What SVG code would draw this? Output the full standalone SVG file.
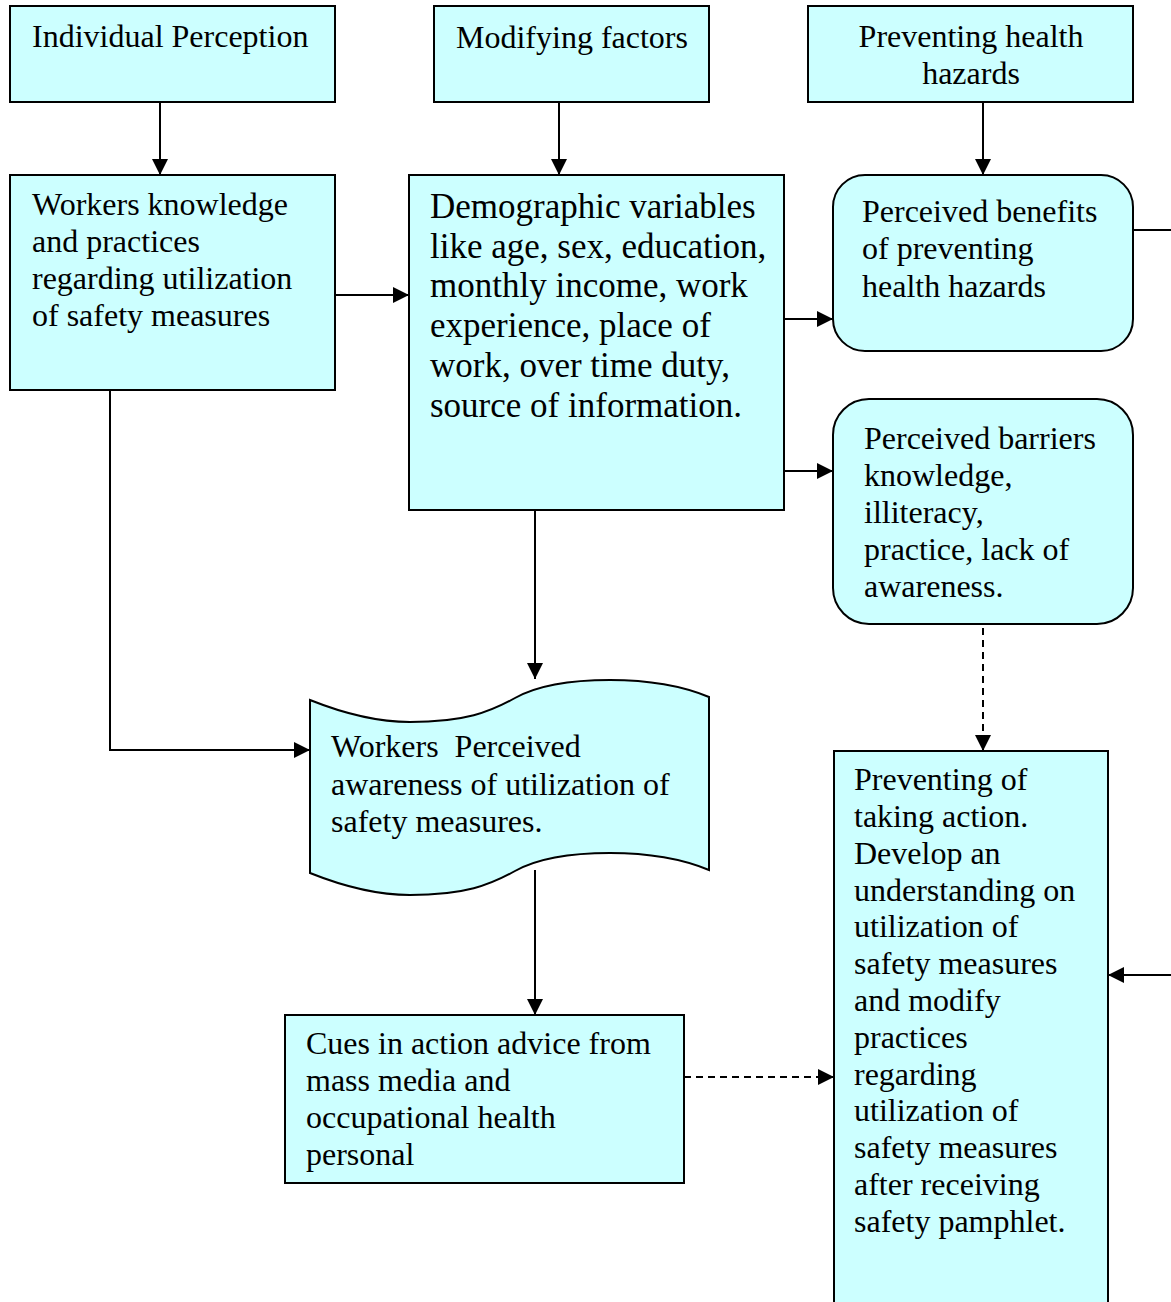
<svg xmlns="http://www.w3.org/2000/svg" width="1171" height="1302" viewBox="0 0 1171 1302">
<style>
.box{fill:#CCFFFF;stroke:#000;stroke-width:2}
.t{font-family:"Liberation Serif","Times New Roman",serif;font-size:32px;fill:#000}
.tl{font-family:"Liberation Serif","Times New Roman",serif;font-size:35px;fill:#000}
.c{fill:none;stroke:#000;stroke-width:2}
.d{fill:none;stroke:#000;stroke-width:2;stroke-dasharray:7,5}
</style>
<defs>
<marker id="ah" markerUnits="userSpaceOnUse" markerWidth="16" markerHeight="16" viewBox="0 0 16 16" refX="16" refY="8" orient="auto">
<path d="M0,0 L16,8 L0,16 Z" fill="#000"/>
</marker>
</defs>
<rect width="1171" height="1302" fill="#fff"/>
<g id="connectors">
<line class="c" x1="160" y1="102" x2="160" y2="175" marker-end="url(#ah)"/>
<line class="c" x1="559" y1="102" x2="559" y2="175" marker-end="url(#ah)"/>
<line class="c" x1="983" y1="102" x2="983" y2="175" marker-end="url(#ah)"/>
<line class="c" x1="335" y1="295" x2="409" y2="295" marker-end="url(#ah)"/>
<line class="c" x1="784" y1="319" x2="833" y2="319" marker-end="url(#ah)"/>
<line class="c" x1="784" y1="471" x2="833" y2="471" marker-end="url(#ah)"/>
<polyline class="c" points="110,390 110,750 310,750" marker-end="url(#ah)"/>
<line class="c" x1="535" y1="510" x2="535" y2="679" marker-end="url(#ah)"/>
<line class="c" x1="535" y1="870" x2="535" y2="1015" marker-end="url(#ah)"/>
<line class="d" x1="684" y1="1077" x2="834" y2="1077" marker-end="url(#ah)"/>
<line class="d" x1="983" y1="628" x2="983" y2="751" marker-end="url(#ah)"/>
<line class="c" x1="1133" y1="230" x2="1171" y2="230"/>
<line class="c" x1="1171" y1="975" x2="1108" y2="975" marker-end="url(#ah)"/>
</g>
<g id="individual-perception">
<rect class="box" x="10" y="6" width="325" height="96"/>
<text class="t" x="32" y="47">Individual Perception</text>
</g>
<g id="modifying-factors">
<rect class="box" x="434" y="6" width="275" height="96"/>
<text class="t" x="456" y="48">Modifying factors</text>
</g>
<g id="preventing-health-hazards">
<rect class="box" x="808" y="6" width="325" height="96"/>
<text class="t" x="971" y="47" text-anchor="middle">Preventing health</text>
<text class="t" x="971" y="84" text-anchor="middle">hazards</text>
</g>
<g id="workers-knowledge">
<rect class="box" x="10" y="175" width="325" height="215"/>
<text class="t" x="32" y="215">Workers knowledge</text>
<text class="t" x="32" y="252">and practices</text>
<text class="t" x="32" y="289">regarding utilization</text>
<text class="t" x="32" y="326">of safety measures</text>
</g>
<g id="demographic-variables">
<rect class="box" x="409" y="175" width="375" height="335"/>
<text class="tl" x="430" y="218">Demographic variables</text>
<text class="tl" x="430" y="258">like age, sex, education,</text>
<text class="tl" x="430" y="297">monthly income, work</text>
<text class="tl" x="430" y="337">experience, place of</text>
<text class="tl" x="430" y="377">work, over time duty,</text>
<text class="tl" x="430" y="417">source of information.</text>
</g>
<g id="perceived-benefits">
<rect class="box" x="833" y="175" width="300" height="176" rx="32" ry="32"/>
<text class="t" x="862" y="222">Perceived benefits</text>
<text class="t" x="862" y="259">of preventing</text>
<text class="t" x="862" y="297">health hazards</text>
</g>
<g id="perceived-barriers">
<rect class="box" x="833" y="399" width="300" height="225" rx="36" ry="36"/>
<text class="t" x="864" y="449">Perceived barriers</text>
<text class="t" x="864" y="486">knowledge,</text>
<text class="t" x="864" y="523">illiteracy,</text>
<text class="t" x="864" y="560">practice, lack of</text>
<text class="t" x="864" y="597">awareness.</text>
</g>
<g id="workers-perceived-awareness">
<path class="box" d="M310,700 C350,716 380,722 410,722 C465,722 490,712 515,698 C540,684 575,680 610,680 C650,680 685,687 709,697 L709,870 C685,860 650,853 610,853 C575,853 540,857 515,871 C490,885 465,895 410,895 C380,895 350,889 310,873 Z"/>
<text class="t" x="331" y="757" xml:space="preserve">Workers  Perceived</text>
<text class="t" x="331" y="795">awareness of utilization of</text>
<text class="t" x="331" y="832">safety measures.</text>
</g>
<g id="cues-in-action">
<rect class="box" x="285" y="1015" width="399" height="168"/>
<text class="t" x="306" y="1054">Cues in action advice from</text>
<text class="t" x="306" y="1091">mass media and</text>
<text class="t" x="306" y="1128">occupational health</text>
<text class="t" x="306" y="1165">personal</text>
</g>
<g id="preventing-of-taking-action">
<rect class="box" x="834" y="751" width="274" height="580"/>
<text class="t" x="854" y="790">Preventing of</text>
<text class="t" x="854" y="827">taking action.</text>
<text class="t" x="854" y="864">Develop an</text>
<text class="t" x="854" y="901">understanding on</text>
<text class="t" x="854" y="937">utilization of</text>
<text class="t" x="854" y="974">safety measures</text>
<text class="t" x="854" y="1011">and modify</text>
<text class="t" x="854" y="1048">practices</text>
<text class="t" x="854" y="1085">regarding</text>
<text class="t" x="854" y="1121">utilization of</text>
<text class="t" x="854" y="1158">safety measures</text>
<text class="t" x="854" y="1195">after receiving</text>
<text class="t" x="854" y="1232">safety pamphlet.</text>
</g>
</svg>
